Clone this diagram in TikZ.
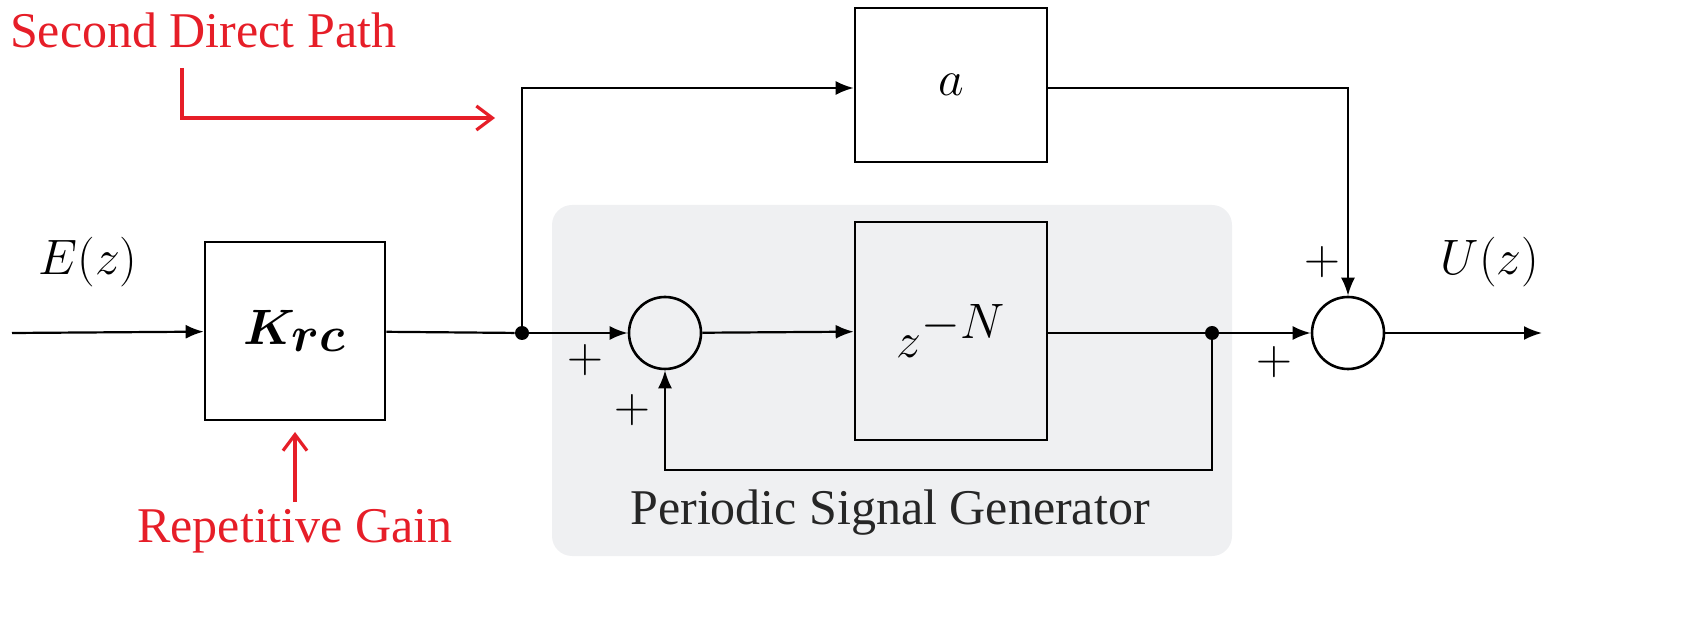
\documentclass[tikz,border=0pt]{standalone}
\usepackage{amsmath,bm}
\usepackage{fontspec}
\setmainfont{Liberation Serif}
\usetikzlibrary{arrows.meta}
\definecolor{redc}{RGB}{230,30,40}
\definecolor{bg}{RGB}{239,240,242}
\begin{document}
\begin{tikzpicture}[x=0.5pt,y=-0.5pt,
  blk/.style={draw,line width=1.3pt,inner sep=0},
  sum/.style={draw,circle,line width=1.3pt,minimum size=36pt,inner sep=0},
  dot/.style={circle,fill,minimum size=7pt,inner sep=0},
  conn/.style={line width=1.1pt,-{Latex[length=9pt,width=7pt]}},
  ln/.style={line width=1.1pt},
  big/.style={font=\fontsize{37}{40}\selectfont},
  huge/.style={font=\fontsize{45}{48}\selectfont},
  lab/.style={font=\fontsize{25}{28}\selectfont},
  rarr/.style={redc,line width=1.6pt,-{Straight Barb[length=8pt,width=12pt]}}]
\useasboundingbox (0,0) rectangle (1690,624);
\fill[bg,rounded corners=10pt] (552,205) rectangle (1232,556);
\node[blk,minimum width=96pt,minimum height=77pt,big] (a) at (951,85) {$a$};
\node[blk,minimum width=96pt,minimum height=109pt,big] (zn) at (951,331) {$z^{-N}$};
\node[blk,minimum width=90pt,minimum height=89pt,big] (k) at (295,331) {$\bm{K_{rc}}$};
\node[sum] (s1) at (665,333) {};
\node[sum] (s2) at (1348,333) {};
\node[dot] (d1) at (522,333) {};
\node[dot] (d2) at (1212,333) {};
\coordinate (in) at (12,333);
\coordinate (out) at (1542,333);
\draw[conn] (in) -- (k);
\draw[ln] (k) -- (d1);
\draw[conn] (d1) -- (s1);
\draw[conn] (s1) -- (zn);
\draw[ln] (zn.east|-d2) -- (d2);
\draw[conn] (d2) -- (s2);
\draw[conn] (s2) -- (out);
\draw[conn] (d1) |- (a.west|-0,88);
\draw[conn] (a.east|-0,88) -| (s2.north);
\draw[conn] (d2) |- (665,470) -- (s1.south);
\node[huge] at (88,262) {$E(z)$};
\node[huge] at (1490,262) {$U(z)$};
\node[lab] at (585,360) {$+$};
\node[lab] at (632,410) {$+$};
\node[lab] at (1322,262) {$+$};
\node[lab] at (1274,362) {$+$};
\node[lab,text=black!85,anchor=south] at (890,542) {Periodic Signal Generator};
\node[lab,text=redc,anchor=west] at (3,30) {Second Direct Path};
\node[lab,text=redc,anchor=south] at (295,560) {Repetitive Gain};
\draw[rarr] (182,68) -- (182,118) -- (495,118);
\draw[rarr] (295,502) -- (295,432);
\end{tikzpicture}
\end{document}
